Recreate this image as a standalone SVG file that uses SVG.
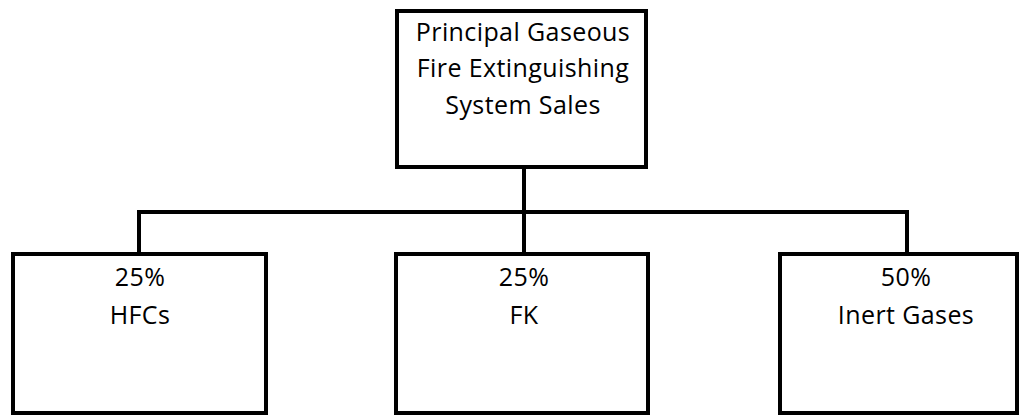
<svg xmlns="http://www.w3.org/2000/svg" width="1025" height="416" viewBox="0 0 1025 416">
<style>
.box{fill:#fff;stroke:#000;stroke-width:4}
.con{fill:none;stroke:#000;stroke-width:4}
text{font-family:"Open Sans","Liberation Sans",sans-serif;font-size:25px;letter-spacing:0.4px;fill:#000;text-anchor:middle}
</style>
<rect width="1025" height="416" fill="#fff"/>
<g id="connectors">
<path class="con" d="M524 168V212M139 253V212H907V253M524 212V253"/>
</g>
<g id="root">
<rect class="box" x="397" y="11" width="249" height="156"/>
<text x="523" y="41">Principal Gaseous</text>
<text x="523" y="77">Fire Extinguishing</text>
<text x="523" y="114">System Sales</text>
</g>
<g id="hfcs">
<rect class="box" x="13" y="254" width="253" height="159"/>
<text x="140" y="286">25%</text>
<text x="140" y="324">HFCs</text>
</g>
<g id="fk">
<rect class="box" x="396" y="254" width="252" height="159"/>
<text x="524" y="286">25%</text>
<text x="524" y="324">FK</text>
</g>
<g id="inert">
<rect class="box" x="780" y="254" width="237" height="159"/>
<text x="906" y="286">50%</text>
<text x="906" y="324">Inert Gases</text>
</g>
</svg>
